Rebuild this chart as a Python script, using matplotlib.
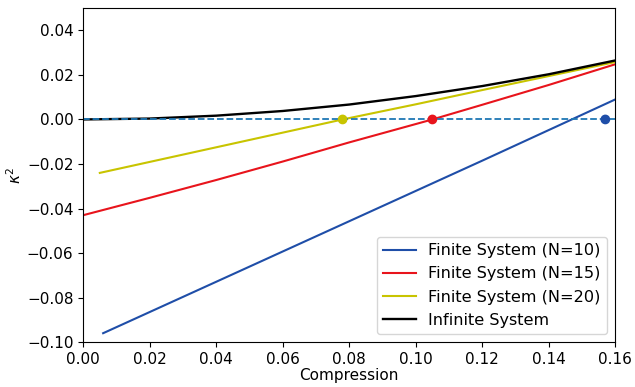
import matplotlib
matplotlib.use("Agg")
import matplotlib.pyplot as plt

# Data
x_n10 = [0.006, 0.04, 0.08, 0.12, 0.16]
y_n10 = [-0.096, -0.0729, -0.0457, -0.0185, 0.009]

x_n15 = [0.0, 0.02, 0.04, 0.06, 0.08, 0.105, 0.12, 0.14, 0.16]
y_n15 = [-0.043, -0.0352, -0.0272, -0.0189, -0.0103, 0.0, 0.0066, 0.0155, 0.0248]

x_n20 = [0.005, 0.04, 0.078, 0.10, 0.12, 0.14, 0.16]
y_n20 = [-0.024, -0.0125, 0.0, 0.0068, 0.0132, 0.0195, 0.0258]

x_inf = [0.0, 0.02, 0.04, 0.06, 0.08, 0.10, 0.12, 0.14, 0.16]
y_inf = [0.0, 0.0004, 0.0017, 0.0038, 0.0067, 0.0105, 0.0150, 0.0203, 0.0265]

crit_x = [0.078, 0.105, 0.157]
crit_y = [0.0, 0.0, 0.0]
crit_colors = ["#c8c400", "#e8141c", "#1f4ea8"]

labels = ["Finite System (N=10)", "Finite System (N=15)",
          "Finite System (N=20)", "Infinite System"]

plt.rcParams['font.size'] = 11
fig = plt.figure(figsize=(6.35, 3.87), dpi=100)
ax = fig.add_axes([0.131, 0.116, 0.838, 0.863])

ax.plot(x_n10, y_n10, color="#1f4ea8", lw=1.5, label=labels[0])
ax.plot(x_n15, y_n15, color="#e8141c", lw=1.5, label=labels[1])
ax.plot(x_n20, y_n20, color="#c8c400", lw=1.5, label=labels[2])
ax.plot(x_inf, y_inf, color="black", lw=1.7, label=labels[3])
ax.plot([0.0, 0.16], [0.0, 0.0], color="#1f77b4", lw=1.3, ls="--")
ax.scatter(crit_x, crit_y, c=crit_colors, s=36, zorder=5)

ax.set_xlim(0.0, 0.16)
ax.set_ylim(-0.10, 0.05)
ax.set_yticks([-0.10, -0.08, -0.06, -0.04, -0.02, 0.0, 0.02, 0.04])
ax.set_xticks([0.0, 0.02, 0.04, 0.06, 0.08, 0.10, 0.12, 0.14, 0.16])
ax.set_xlabel("Compression", labelpad=1)
ax.set_ylabel(r"$\kappa^2$", labelpad=2)
ax.legend(loc="lower right", fontsize=11.6, handlelength=2.0,
          borderaxespad=0.5, labelspacing=0.5)

fig.savefig("out.png", dpi=100)
